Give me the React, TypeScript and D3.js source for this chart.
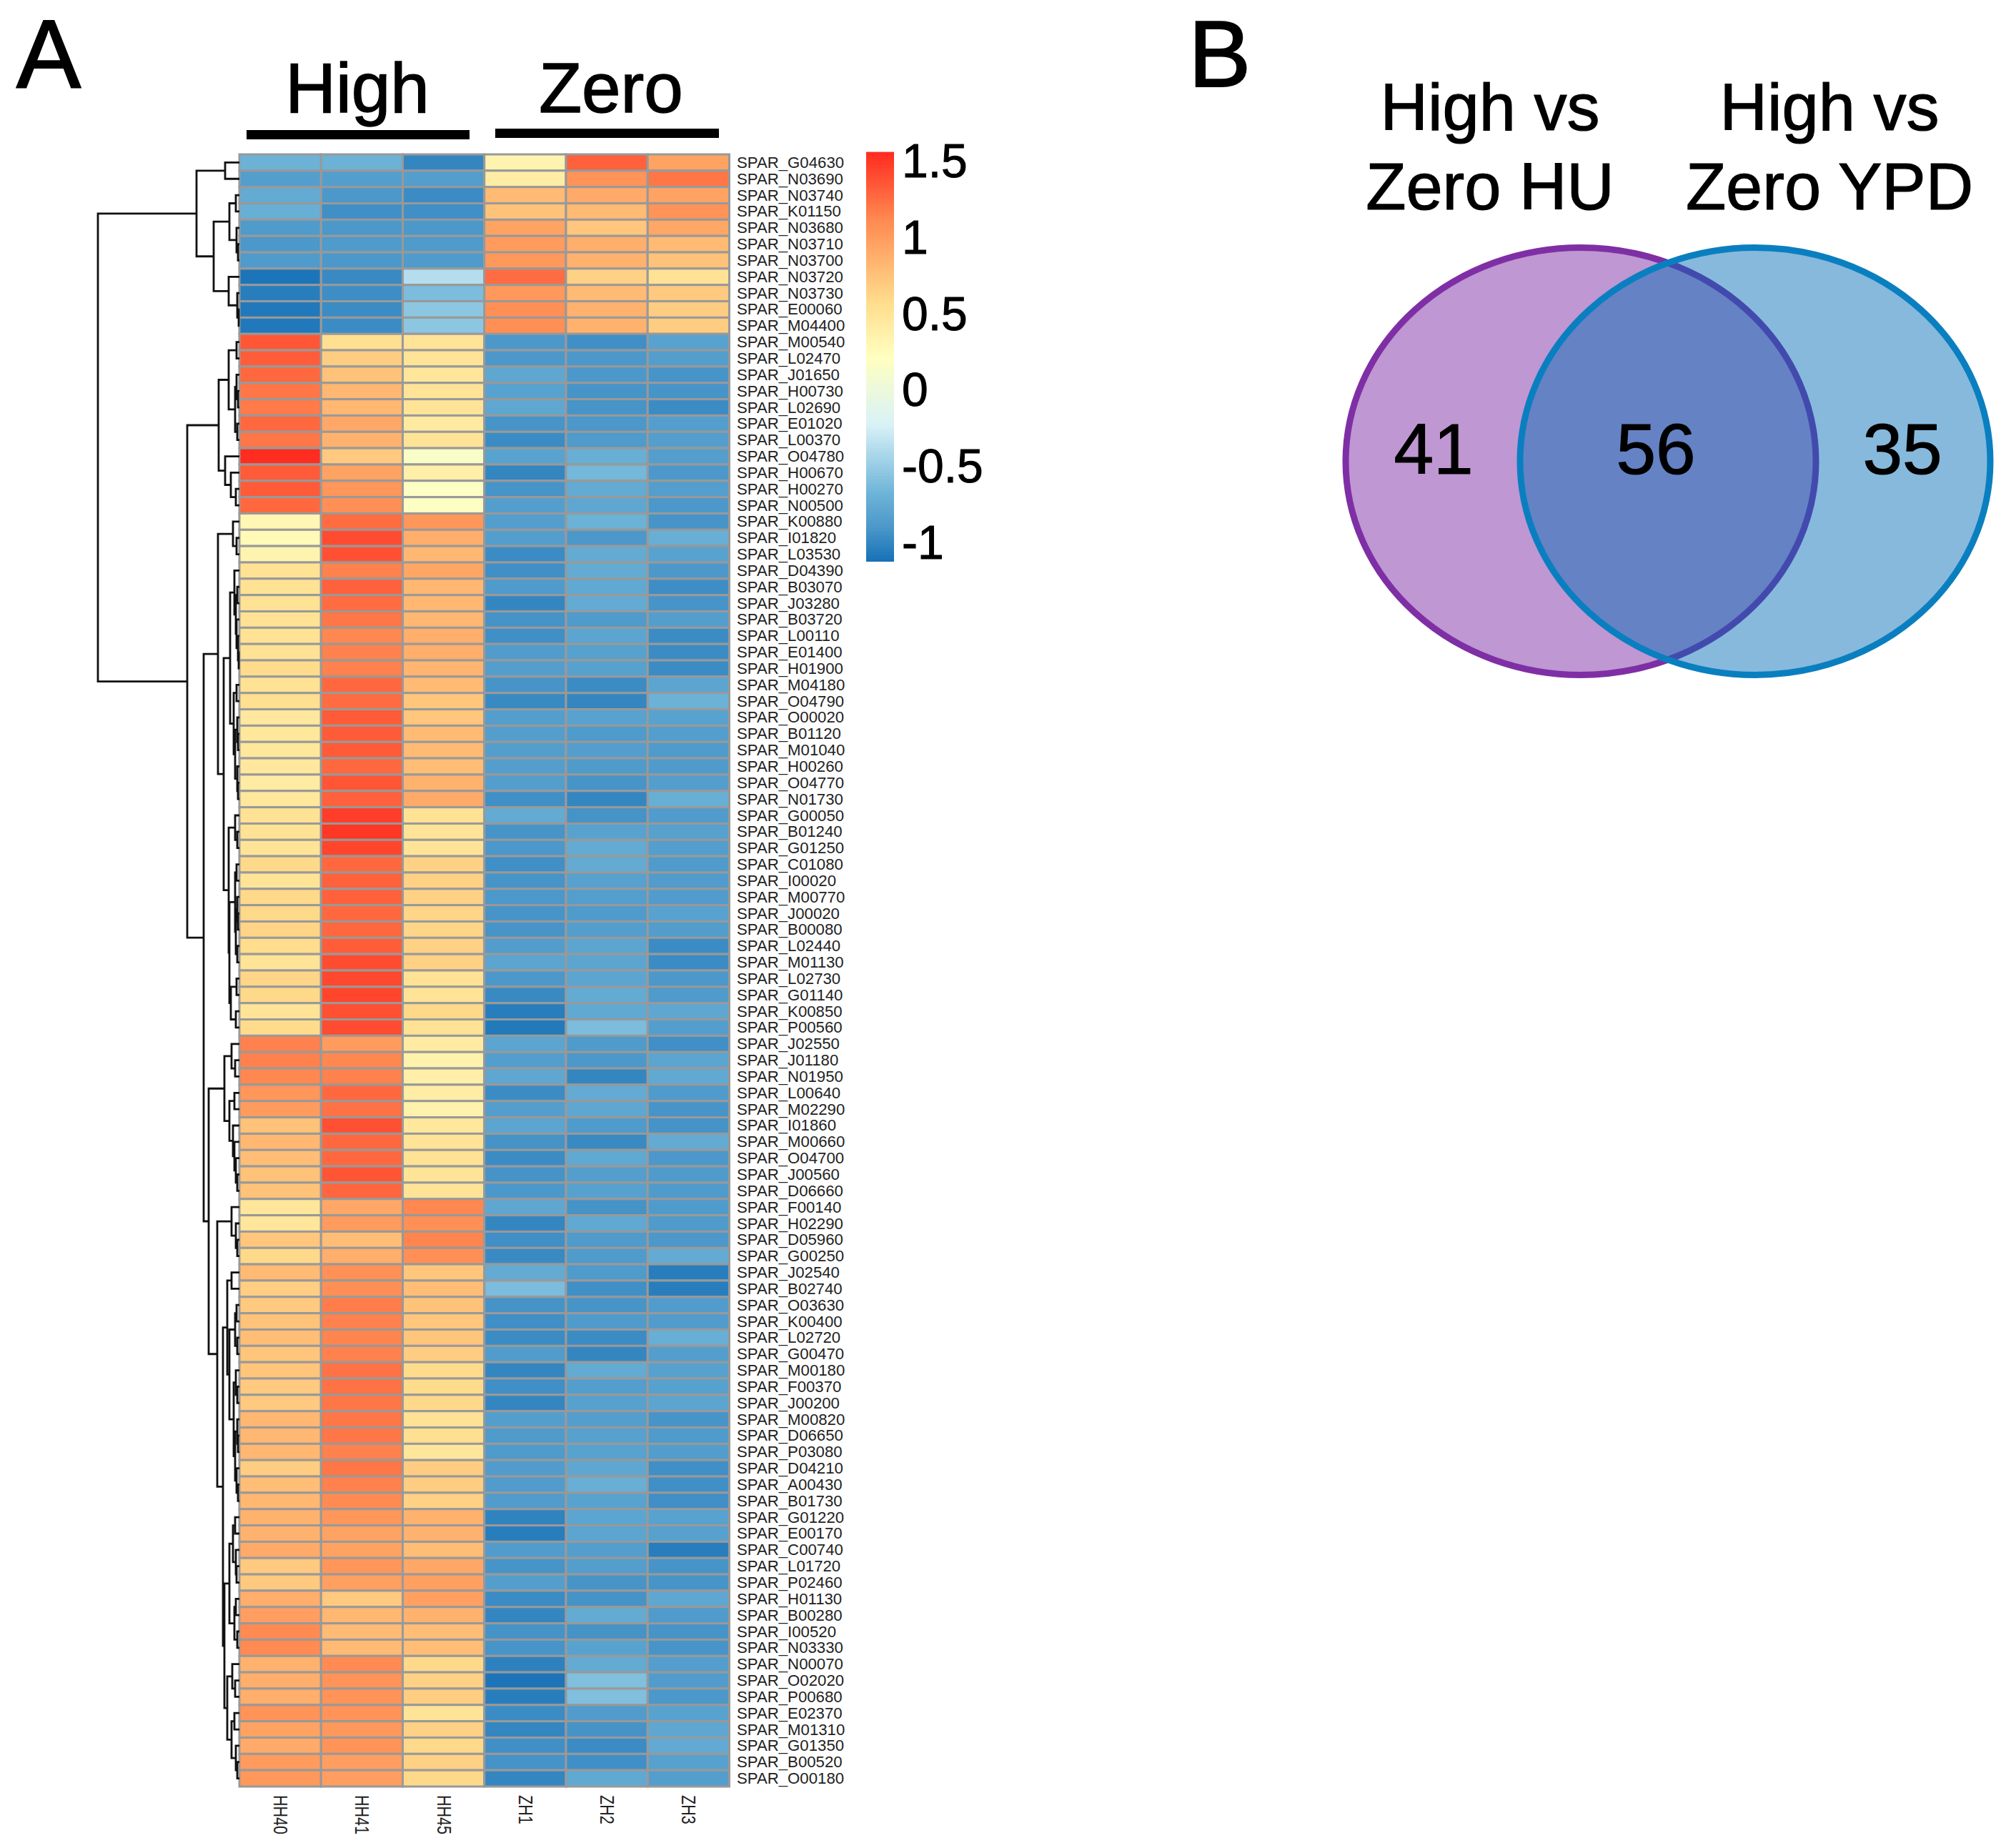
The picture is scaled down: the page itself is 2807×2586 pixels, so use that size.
import * as d3 from "d3";
import {useEffect, useRef} from "react";

const samples = ["HH40", "HH41", "HH45", "ZH1", "ZH2", "ZH3"];

const genes = [
  "SPAR_G04630", "SPAR_N03690", "SPAR_N03740", "SPAR_K01150", "SPAR_N03680", "SPAR_N03710", "SPAR_N03700", "SPAR_N03720", "SPAR_N03730", "SPAR_E00060",
  "SPAR_M04400", "SPAR_M00540", "SPAR_L02470", "SPAR_J01650", "SPAR_H00730", "SPAR_L02690", "SPAR_E01020", "SPAR_L00370", "SPAR_O04780", "SPAR_H00670",
  "SPAR_H00270", "SPAR_N00500", "SPAR_K00880", "SPAR_I01820", "SPAR_L03530", "SPAR_D04390", "SPAR_B03070", "SPAR_J03280", "SPAR_B03720", "SPAR_L00110",
  "SPAR_E01400", "SPAR_H01900", "SPAR_M04180", "SPAR_O04790", "SPAR_O00020", "SPAR_B01120", "SPAR_M01040", "SPAR_H00260", "SPAR_O04770", "SPAR_N01730",
  "SPAR_G00050", "SPAR_B01240", "SPAR_G01250", "SPAR_C01080", "SPAR_I00020", "SPAR_M00770", "SPAR_J00020", "SPAR_B00080", "SPAR_L02440", "SPAR_M01130",
  "SPAR_L02730", "SPAR_G01140", "SPAR_K00850", "SPAR_P00560", "SPAR_J02550", "SPAR_J01180", "SPAR_N01950", "SPAR_L00640", "SPAR_M02290", "SPAR_I01860",
  "SPAR_M00660", "SPAR_O04700", "SPAR_J00560", "SPAR_D06660", "SPAR_F00140", "SPAR_H02290", "SPAR_D05960", "SPAR_G00250", "SPAR_J02540", "SPAR_B02740",
  "SPAR_O03630", "SPAR_K00400", "SPAR_L02720", "SPAR_G00470", "SPAR_M00180", "SPAR_F00370", "SPAR_J00200", "SPAR_M00820", "SPAR_D06650", "SPAR_P03080",
  "SPAR_D04210", "SPAR_A00430", "SPAR_B01730", "SPAR_G01220", "SPAR_E00170", "SPAR_C00740", "SPAR_L01720", "SPAR_P02460", "SPAR_H01130", "SPAR_B00280",
  "SPAR_I00520", "SPAR_N03330", "SPAR_N00070", "SPAR_O02020", "SPAR_P00680", "SPAR_E02370", "SPAR_M01310", "SPAR_G01350", "SPAR_B00520", "SPAR_O00180",
];

// one row per gene, same order as samples
const expression = [
  [-.7, -.7, -1.0, .33, 1.3, .95],
  [-.85, -.85, -.85, .4, 1.05, 1.2],
  [-.75, -.9, -.97, .8, .9, .95],
  [-.72, -.95, -.95, .75, .8, 1.05],
  [-.88, -.9, -.9, .95, .72, .92],
  [-.9, -.88, -.88, 1.0, .88, .8],
  [-.88, -.9, -.88, 1.02, .85, .75],
  [-1.1, -.98, -.38, 1.25, .65, .52],
  [-1.05, -.96, -.62, 1.02, .8, .7],
  [-1.08, -.97, -.55, 1.08, .85, .68],
  [-1.08, -.97, -.55, 1.08, .85, .68],
  [1.35, .55, .5, -.9, -.95, -.82],
  [1.32, .68, .5, -.9, -.9, -.85],
  [1.27, .75, .48, -.78, -.9, -.92],
  [1.2, .82, .5, -.82, -.92, -.92],
  [1.18, .82, .5, -.78, -.92, -.97],
  [1.27, .92, .43, -.92, -.9, -.85],
  [1.2, .85, .5, -.97, -.88, -.85],
  [1.55, .7, .15, -.82, -.72, -.85],
  [1.33, .95, .38, -1.0, -.65, -.9],
  [1.33, 1.03, .18, -.92, -.75, -.85],
  [1.27, 1.08, .18, -.85, -.78, -.9],
  [.3, 1.25, 1.03, -.85, -.7, -.92],
  [.27, 1.4, .88, -.85, -.9, -.72],
  [.33, 1.38, .82, -.97, -.75, -.82],
  [.52, 1.15, .93, -.95, -.75, -.9],
  [.52, 1.3, .82, -.88, -.77, -.96],
  [.52, 1.25, .82, -1.0, -.75, -.92],
  [.52, 1.2, .82, -.93, -.88, -.85],
  [.52, 1.12, .88, -.95, -.8, -.97],
  [.52, 1.15, .88, -.87, -.83, -.97],
  [.58, 1.15, .83, -.85, -.83, -.97],
  [.52, 1.27, .8, -.92, -.97, -.8],
  [.55, 1.25, .72, -.98, -1.0, -.7],
  [.45, 1.33, .72, -.85, -.82, -.82],
  [.47, 1.33, .8, -.85, -.88, -.85],
  [.47, 1.33, .8, -.85, -.85, -.88],
  [.45, 1.27, .78, -.85, -.88, -.88],
  [.42, 1.36, .85, -.85, -.92, -.85],
  [.47, 1.3, .9, -.95, -1.0, -.72],
  [.52, 1.47, .52, -.75, -.93, -.87],
  [.52, 1.5, .5, -.92, -.82, -.83],
  [.5, 1.43, .5, -.9, -.75, -.85],
  [.6, 1.27, .65, -.95, -.75, -.88],
  [.5, 1.3, .65, -.92, -.83, -.87],
  [.6, 1.3, .65, -.9, -.85, -.87],
  [.6, 1.27, .62, -.92, -.88, -.82],
  [.63, 1.27, .62, -.92, -.85, -.86],
  [.57, 1.32, .65, -.86, -.8, -.97],
  [.5, 1.4, .65, -.8, -.8, -.97],
  [.62, 1.42, .52, -.9, -.8, -.9],
  [.6, 1.43, .5, -.98, -.75, -.88],
  [.5, 1.38, .6, -1.05, -.77, -.78],
  [.58, 1.4, .52, -1.07, -.62, -.85],
  [1.15, 1.0, .42, -.8, -.88, -.95],
  [1.15, 1.12, .35, -.85, -.9, -.8],
  [1.12, 1.15, .38, -.78, -1.0, -.77],
  [1.03, 1.27, .4, -.97, -.75, -.88],
  [1.0, 1.22, .35, -.85, -.78, -.92],
  [.75, 1.38, .47, -.8, -.88, -.93],
  [.82, 1.27, .5, -.93, -.98, -.75],
  [.78, 1.27, .52, -.97, -.77, -.9],
  [.75, 1.36, .5, -.93, -.85, -.88],
  [.75, 1.28, .5, -.9, -.83, -.88],
  [.48, .92, 1.12, -.78, -.93, -.88],
  [.48, 1.0, 1.08, -1.0, -.77, -.88],
  [.72, .78, 1.13, -.95, -.88, -.9],
  [.6, .88, 1.08, -.98, -.88, -.75],
  [.8, 1.07, .72, -.75, -.88, -1.05],
  [.67, 1.08, .78, -.62, -.95, -1.05],
  [.7, 1.17, .75, -.93, -.92, -.87],
  [.75, 1.15, .72, -.95, -.88, -.87],
  [.78, 1.13, .73, -.97, -.97, -.72],
  [.73, 1.15, .68, -.87, -1.0, -.85],
  [.73, 1.22, .58, -1.0, -.75, -.83],
  [.7, 1.22, .58, -.95, -.85, -.83],
  [.7, 1.2, .6, -1.0, -.83, -.8],
  [.82, 1.2, .52, -.85, -.85, -.92],
  [.82, 1.2, .55, -.88, -.83, -.88],
  [.82, 1.15, .48, -.88, -.82, -.86],
  [.68, 1.2, .68, -.87, -.78, -.95],
  [.78, 1.15, .68, -.87, -.72, -.95],
  [.82, 1.1, .65, -.87, -.82, -.95],
  [.85, 1.03, .85, -1.02, -.8, -.82],
  [.85, .95, .85, -1.05, -.8, -.83],
  [.9, .95, .78, -.87, -.85, -1.05],
  [.7, 1.03, .92, -.92, -.85, -.92],
  [.7, .97, .97, -.85, -.92, -.92],
  [.88, .7, .97, -.97, -.93, -.78],
  [.98, .82, .85, -1.0, -.75, -.88],
  [1.1, .8, .78, -.93, -.93, -.92],
  [1.1, .8, .78, -.92, -.82, -.92],
  [.85, 1.1, .6, -1.03, -.75, -.85],
  [.88, 1.05, .65, -1.1, -.6, -.87],
  [.88, 1.05, .68, -1.05, -.6, -.9],
  [1.05, 1.05, .5, -.97, -.87, -.82],
  [.95, 1.02, .65, -1.0, -.93, -.78],
  [.9, 1.05, .6, -.95, -.97, -.76],
  [1.0, .98, .65, -.93, -.95, -.83],
  [1.02, .98, .6, -1.0, -.77, -.85],
];

// dendrogram: [height, left, right], plain numbers are row indexes
type Branch = number | [number, Branch, Branch];

const upperCluster: Branch = [60,
  [20, 0, 1],
  [36,
    [14, [5, 2, 3], [4, 4, [2, 5, 6]]],
    [15, 7, [3, 8, [1, 9, 10]]],
  ],
];

const clusterA: Branch = [29,
  [15, [4, 11, 12], [6, [4, 13, [2, 14, 15]], [3, 16, 17]]],
  [20, 18, [12, 19, [5, 20, 21]]],
];

const clusterB1: Branch = [30,
  [9, 22, [4, 23, 24]],
  [22,
    [13,
      [7, 25, [5, [3, 26, 27], [4, 28, [2, 29, [1, 30, 31]]]]],
      [8, [4, 32, 33], [6, [3, 34, [2, 35, 36]], [3, 37, [2, 38, 39]]]],
    ],
    [15,
      [6, 40, [3, 41, 42]],
      [14,
        [6, [4, 43, 44], [5, [3, 45, [2, 46, 47]], [3, 48, 49]]],
        [12, [4, 50, 51], [5, 52, 53]],
      ],
    ],
  ],
];

const clusterB2: Branch = [43,
  [21,
    [11, 54, [6, 55, 56]],
    [14, [7, 57, 58], [9, 59, [7, 60, [5, 61, [3, 62, 63]]]]],
  ],
  [31,
    [11, 64, [5, 65, [3, 66, 67]]],
    [23,
      [17,
        [11, 68, 69],
        [14,
          [6, [4, 70, 71], [3, 72, 73]],
          [8, [5, 74, [3, 75, 76]], [6, [3, 77, [2, 78, 79]], [4, 80, [2, 81, 82]]]],
        ],
      ],
      [21,
        [14,
          [9, [6, 83, 84], [5, 85, [4, 86, 87]]],
          [7, [5, 88, 89], [3, 90, 91]],
        ],
        [17,
          [10, 92, [6, 93, 94]],
          [11, [7, 95, 96], [5, 97, [3, 98, 99]]],
        ],
      ],
    ],
  ],
];

const rowTree: Branch = [198, upperCluster, [73, clusterA, [50, clusterB1, clusterB2]]];

const legendTicks = [1.5, 1, 0.5, 0, -0.5, -1];
const legendDomain = [-1.117, 1.547];
const colorStops = [-1.117, -.9, -.673, -.229, .215, .58, 1.103, 1.547];
const colorRange = ["#1872b7", "#4c98ca", "#6fb5d8", "#d9f2f8", "#ffffbf", "#ffdc8c", "#ff8b52", "#ff2d20"];

const groupLabels = ["High", "Zero"];
const vennTitles = [["High vs", "Zero HU"], ["High vs", "Zero YPD"]];
const vennCounts = [41, 56, 35];

const FONT = '"Liberation Sans", Arial, sans-serif';

const App = () => {
  const width = 2807;
  const height = 2586;
  const svgRef = useRef<SVGSVGElement>(null!);

  useEffect(() => {
    const svg = d3.select(svgRef.current);
    svg.selectAll("*").remove();
    svg.attr("font-family", FONT);

    const x = d3.scaleBand().domain(samples).range([335, 1020.5]);
    const y = d3.scaleBand().domain(d3.range(genes.length).map(String)).range([216, 2500]);
    const color = d3.scaleLinear<string>().domain(colorStops).range(colorRange).interpolate(d3.interpolateRgb);

    // heatmap cells
    const rows = svg.append("g").selectAll("g").data(expression).enter().append("g");
    rows.selectAll("rect")
      .data((d, i) => d.map((v, j) => ({v, j, i})))
      .enter()
      .append("rect")
      .attr("x", d => x(samples[d.j])!)
      .attr("y", d => y(String(d.i))!)
      .attr("width", x.bandwidth())
      .attr("height", y.bandwidth())
      .attr("fill", d => color(d.v))
      .attr("stroke", "#999999")
      .attr("stroke-width", 3);

    // row labels
    svg.append("g").selectAll("text").data(genes).enter().append("text")
      .attr("x", 1031)
      .attr("y", (_, i) => y(String(i))! + y.bandwidth() / 2 + 7.5)
      .attr("font-size", 22.2)
      .attr("fill", "#222")
      .text(d => d);

    // column labels, stretched the way the original is
    svg.append("g").selectAll("text").data(samples).enter().append("text")
      .attr("transform", d => `translate(${x(d)! + x.bandwidth() / 2 - 9},2512) rotate(90) scale(1,1.25)`)
      .attr("font-size", 21.5)
      .attr("fill", "#222")
      .text(d => d);

    // row dendrogram
    const depth = d3.scaleLinear().domain([0, 198]).range([335, 137]);
    const root = d3.hierarchy<Branch>(rowTree, d => (Array.isArray(d) ? d.slice(1) as Branch[] : null));
    const nodeY = new Map<unknown, number>();
    root.eachAfter(node => {
      const d = node.data;
      nodeY.set(node, Array.isArray(d)
        ? d3.mean(node.children!, c => nodeY.get(c)!)!
        : y(String(d))! + y.bandwidth() / 2);
    });
    const nodeX = (d: Branch) => depth(Array.isArray(d) ? d[0] : 0);
    const path = d3.path();
    root.each(node => {
      if (!node.children) return;
      const px = nodeX(node.data);
      const [a, b] = node.children;
      path.moveTo(nodeX(a.data), nodeY.get(a)!);
      path.lineTo(px, nodeY.get(a)!);
      path.lineTo(px, nodeY.get(b)!);
      path.lineTo(nodeX(b.data), nodeY.get(b)!);
    });
    svg.append("path")
      .attr("d", path.toString())
      .attr("fill", "none")
      .attr("stroke", "#111")
      .attr("stroke-width", 2.8);

    // colour legend
    const legendY = d3.scaleLinear().domain(legendDomain).range([785, 216]);
    const legendSteps = d3.range(legendDomain[0], legendDomain[1], 0.02);
    svg.append("g").selectAll("rect").data(legendSteps).enter().append("rect")
      .attr("x", 1212)
      .attr("y", d => legendY(d + 0.02))
      .attr("width", 39)
      .attr("height", d => legendY(d) - legendY(d + 0.02) + 1)
      .attr("fill", d => color(d));
    svg.append("g").selectAll("text").data(legendTicks).enter().append("text")
      .attr("x", 1262)
      .attr("y", d => legendY(d) + 22)
      .attr("font-size", 66)
      .attr("stroke", "#000")
      .attr("stroke-width", 1)
      .text(d => String(d));

    // group headers
    const headerX = [500, 855];
    const headerBarX = [[345, 657], [693, 1006]];
    const headerBarY = [182, 180];
    groupLabels.forEach((label, i) => {
      svg.append("text")
        .attr("x", headerX[i])
        .attr("y", 157)
        .attr("text-anchor", "middle")
        .attr("font-size", 98)
        .attr("stroke", "#000")
        .attr("stroke-width", 1.5)
        .text(label);
      svg.append("rect")
        .attr("x", headerBarX[i][0])
        .attr("y", headerBarY[i])
        .attr("width", headerBarX[i][1] - headerBarX[i][0])
        .attr("height", 13)
        .attr("fill", "#000");
    });

    // panel letters
    svg.append("text").attr("x", 23).attr("y", 122).attr("font-size", 135).attr("stroke", "#000").attr("stroke-width", 2).text("A");
    svg.append("text").attr("x", 1663).attr("y", 121).attr("font-size", 131).attr("stroke", "#000").attr("stroke-width", 2).text("B");

    // venn
    const venn = svg.append("g");
    venn.append("ellipse")
      .attr("cx", 2212).attr("cy", 645.5).attr("rx", 329).attr("ry", 299)
      .attr("fill", "#7f2fa5").attr("fill-opacity", 0.5);
    venn.append("ellipse")
      .attr("cx", 2212).attr("cy", 645.5).attr("rx", 329).attr("ry", 299)
      .attr("fill", "none").attr("stroke", "#7f2fa5").attr("stroke-width", 9);
    venn.append("ellipse")
      .attr("cx", 2456).attr("cy", 645.5).attr("rx", 329).attr("ry", 299)
      .attr("fill", "#006ab7").attr("fill-opacity", 0.47);
    venn.append("ellipse")
      .attr("cx", 2456).attr("cy", 645.5).attr("rx", 329).attr("ry", 299)
      .attr("fill", "none").attr("stroke", "#0a7fc0").attr("stroke-width", 9);

    const vennTitleX = [2085, 2560];
    vennTitles.forEach((lines, i) => {
      lines.forEach((line, j) => {
        svg.append("text")
          .attr("x", vennTitleX[i])
          .attr("y", j === 0 ? 182 : 293)
          .attr("text-anchor", "middle")
          .attr("font-size", 92)
          .attr("stroke", "#000")
          .attr("stroke-width", 1.2)
          .text(line);
      });
    });

    const vennCountX = [2006, 2317, 2662];
    svg.append("g").selectAll("text").data(vennCounts).enter().append("text")
      .attr("x", (_, i) => vennCountX[i])
      .attr("y", 663)
      .attr("text-anchor", "middle")
      .attr("font-size", 100)
      .attr("stroke", "#000")
      .attr("stroke-width", 1.2)
      .text(d => d);
  }, []);

  return <svg ref={svgRef} width={width} height={height} style={{position: "absolute", left: 0, top: 0, background: "#fff"}}/>;
};

export default App;
